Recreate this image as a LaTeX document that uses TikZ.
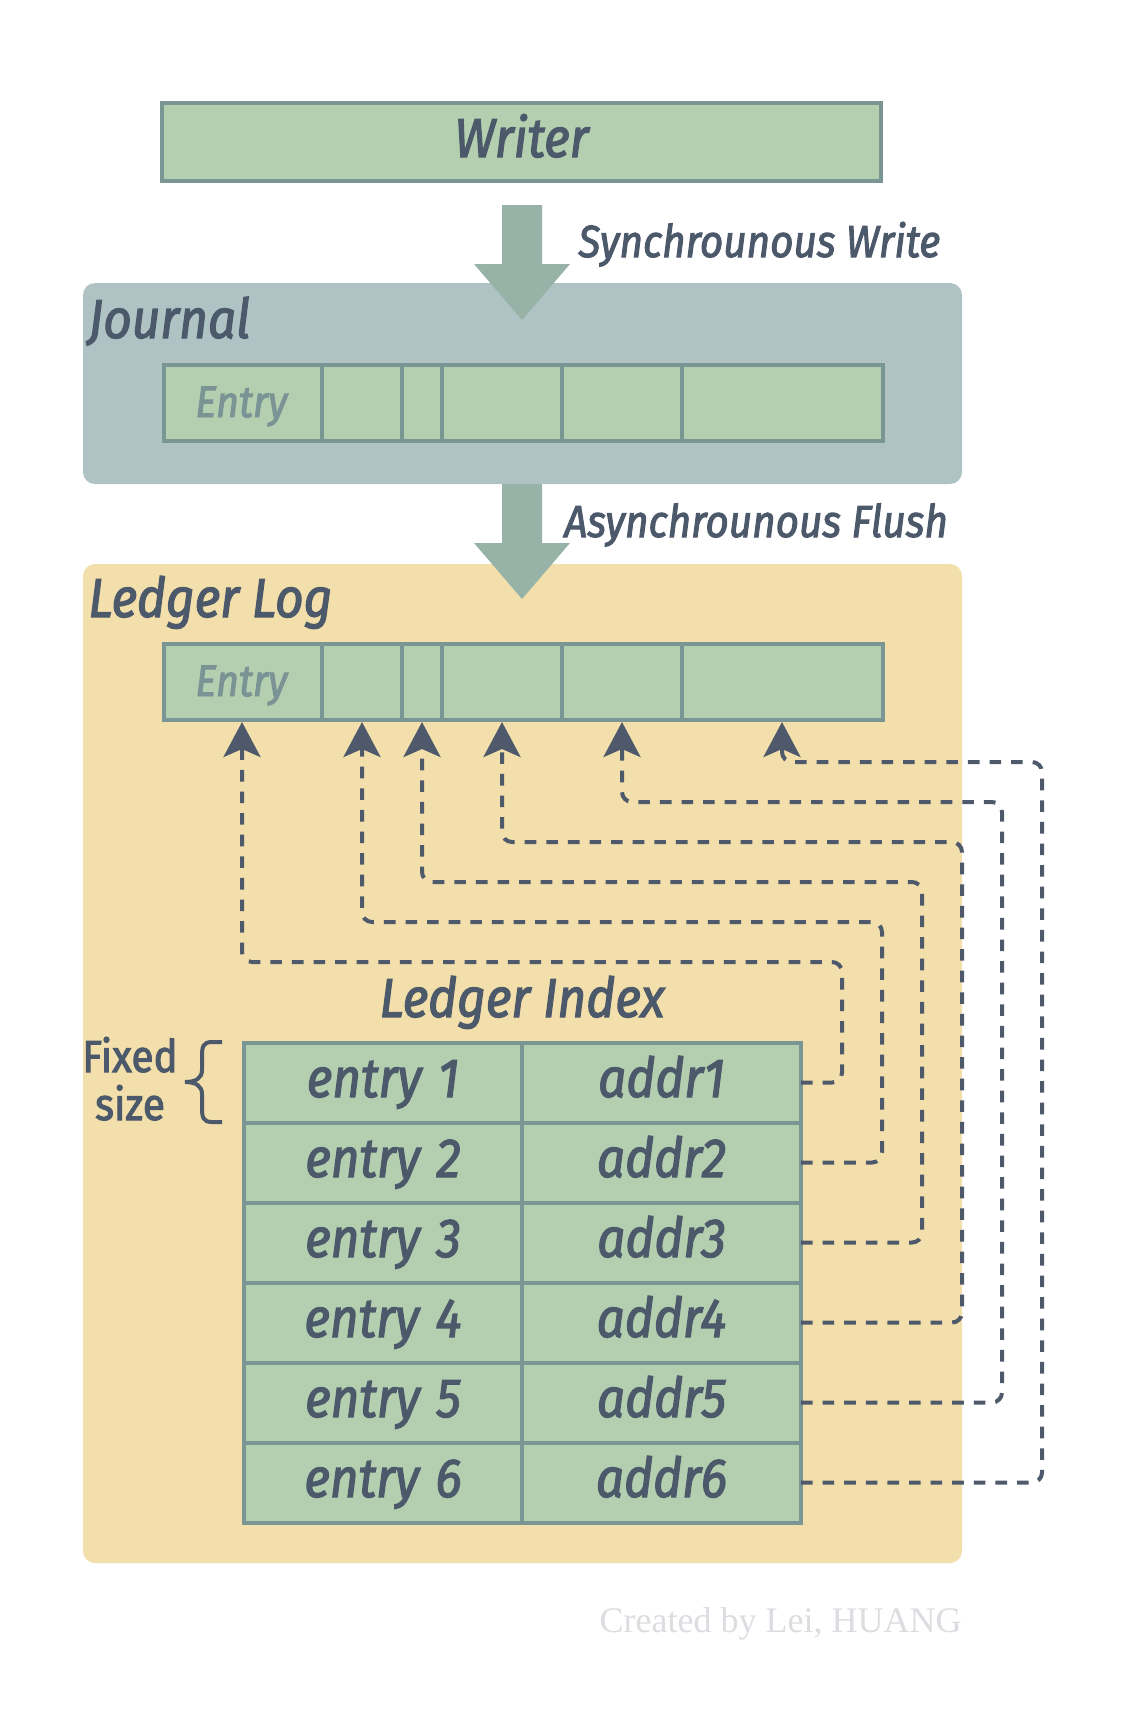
\documentclass[tikz,border=0pt]{standalone}
\usepackage{fontspec}
\usetikzlibrary{arrows.meta}
\newfontfamily\futfont{Fira Sans}[FakeStretch=0.9,FakeBold=2.2]
\newfontfamily\credfont{Liberation Serif}
\definecolor{cellgreen}{HTML}{B3CFB0}
\definecolor{cellborder}{HTML}{799594}
\definecolor{bigarrow}{HTML}{97B3A8}
\definecolor{journalbg}{HTML}{AFC3C5}
\definecolor{ledgerbg}{HTML}{F2DFAB}
\definecolor{inktext}{HTML}{4C596A}
\definecolor{faintentry}{HTML}{7A9394}
\definecolor{dashink}{HTML}{4E5A6B}
\definecolor{creditgrey}{HTML}{DCDDE1}
\begin{document}
\begin{tikzpicture}[x=0.5pt,y=-0.5pt,
  cellbox/.style={draw=cellborder, fill=cellgreen, line width=2pt, inner sep=0pt, outer sep=0pt},
  panel/.style={rounded corners=6pt, inner sep=0pt, outer sep=0pt},
  biglbl/.style={inner sep=0pt, text=inktext, font=\futfont\itshape\fontsize{27.5}{32}\selectfont},
  midlbl/.style={inner sep=0pt, text=inktext, font=\futfont\itshape\fontsize{22.5}{27}\selectfont},
  entrylbl/.style={inner sep=0pt, text=faintentry, font=\futfont\itshape\fontsize{22}{26}\selectfont},
  tabcell/.style={cellbox, text=inktext, font=\futfont\itshape\fontsize{27.5}{32}\selectfont, text height=19pt, text depth=4.5pt, minimum height=40pt},
  fixlbl/.style={inner sep=0pt, text=inktext, font=\futfont\fontsize{22.5}{26}\selectfont},
  flowarrow/.style={fill=bigarrow},
  conn/.style={draw=dashink, line width=2pt, dash pattern=on 5.8pt off 5pt, rounded corners=5pt,
    -{Stealth[length=17.5pt,width=18.5pt,inset=4pt]}}
]
\useasboundingbox (0,0) rectangle (1124,1724);

% panels
\node[panel, fill=journalbg, minimum width=439.5pt, minimum height=100.5pt] (journal) at (522.5,383.5) {};
\node[panel, fill=ledgerbg, minimum width=439.5pt, minimum height=499.5pt] (ledger) at (522.5,1063.5) {};

% writer
\node[cellbox, text=inktext, font=\futfont\itshape\fontsize{27.5}{32}\selectfont,
      text height=17pt, text depth=2pt, minimum width=359.5pt, minimum height=39pt] (writer) at (521.5,142) {Writer};

% big arrows
\coordinate (w2j) at (522,205);
\coordinate (j2l) at (522,484);
\foreach \c in {w2j, j2l} {
  \fill[flowarrow] (\c) ++(-20,0) -- ++(40,0) -- ++(0,59) -- ++(28,0) -- ++(-48,56) -- ++(-48,-56) -- ++(28,0) -- cycle;
}
\node[midlbl, anchor=base west] (syncw) at (578,257) {Synchrounous Write};
\node[midlbl, anchor=base west] (asyncf) at (564,537) {Asynchrounous Flush};

% panel titles
\node[biglbl, anchor=base west] (jtitle) at (88,338) {Journal};
\node[biglbl, anchor=base west] (ltitle) at (88,617) {Ledger Log};

% entry bars
\foreach \pre/\yc in {j/403, l/682} {
  \foreach \i/\a/\b in {1/164/322, 2/322/402, 3/402/442, 4/442/562, 5/562/682, 6/682/883} {
    \node[cellbox, minimum width={(\b-\a)*0.5pt}, minimum height=38pt] (\pre\i) at ({(\a+\b)/2},\yc) {};
  }
}
\node[entrylbl, anchor=base west] (jentry) at (195,417) {Entry};
\node[entrylbl, anchor=base west] (lentry) at (195,696) {Entry};

% ledger index
\node[biglbl, anchor=base] (ltab) at (522,1017) {Ledger Index};
\foreach \i in {1,...,6} {
  \pgfmathsetmacro\yc{1082.5+80*(\i-1)}
  \node[tabcell, minimum width=139pt] (e\i) at (383,\yc) {entry\hspace{0.3em}\i};
  \node[tabcell, minimum width=139.5pt] (a\i) at (661.5,\yc) {addr\i};
}

% fixed size brace
\draw[inktext, line width=2pt] (222,1042) -- (212,1042)
  .. controls (203,1042) and (202,1047) .. (202,1056) -- (202,1070)
  .. controls (202,1078) and (196,1082) .. (185,1082)
  .. controls (196,1082) and (202,1086) .. (202,1094) -- (202,1108)
  .. controls (202,1117) and (203,1122) .. (212,1122) -- (222,1122);
\node[fixlbl, anchor=base] (fixed) at (130,1072) {Fixed};
\node[fixlbl, anchor=base] (fsize) at (130,1120) {size};

% connectors
\foreach \i/\ax/\xr/\yt in {1/242/842/962, 2/362/882/922, 3/422/922/882, 4/502/962/842, 5/622/1002/802, 6/782/1042/762} {
  \coordinate (t\i) at (\ax,722);
  \draw[conn] (a\i.east) -| (\xr,\yt) -| (t\i);
}

% credit
\node[inner sep=0pt, anchor=base east, text=creditgrey, font=\credfont\fontsize{18}{20}\selectfont] (credit) at (962,1632) {Created by Lei, HUANG};
\end{tikzpicture}
\end{document}
